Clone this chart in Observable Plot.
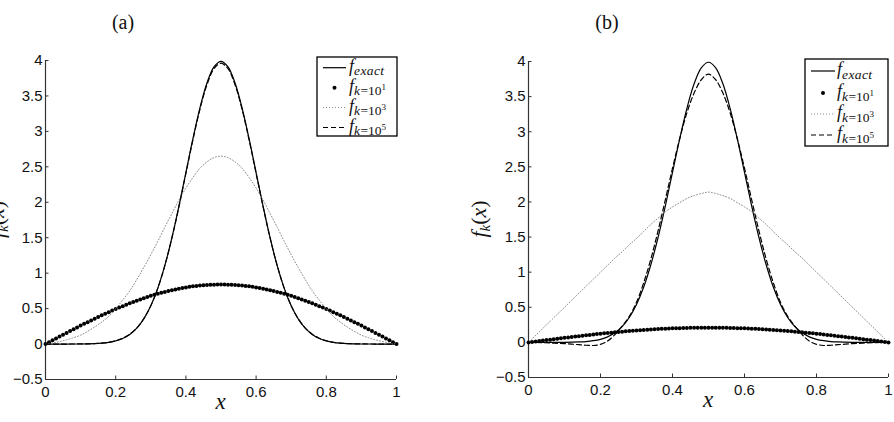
<!DOCTYPE html>
<html>
<head>
<meta charset="utf-8">
<script src="https://cdn.jsdelivr.net/npm/d3@7"></script>
<script src="https://cdn.jsdelivr.net/npm/@observablehq/plot@0.6"></script>
<style>
  html, body { margin: 0; padding: 0; background: #fff; }
  #wrap { display: flex; width: 894px; height: 422px; overflow: hidden; }
  #wrap svg { display: block; }
</style>
</head>
<body>
<div id="wrap"></div>
<script>
// Sample positions for the smooth curves and for the dotted k=10^1 series
const xLine = [0,0.02,0.04,0.06,0.08,0.1,0.12,0.14,0.16,0.18,0.2,0.22,0.24,0.26,0.28,0.3,0.32,0.34,0.36,0.38,0.4,0.42,0.44,0.46,0.48,0.5,
  0.52,0.54,0.56,0.58,0.6,0.62,0.64,0.66,0.68,0.7,0.72,0.74,0.76,0.78,0.8,0.82,0.84,0.86,0.88,0.9,0.92,0.94,0.96,0.98,1];
const xDot = [0,0.01,0.02,0.03,0.04,0.05,0.06,0.07,0.08,0.09,0.1,0.11,0.12,0.13,0.14,0.15,0.16,0.17,0.18,0.19,0.2,
  0.21,0.22,0.23,0.24,0.25,0.26,0.27,0.28,0.29,0.3,0.31,0.32,0.33,0.34,0.35,0.36,0.37,0.38,0.39,0.4,
  0.41,0.42,0.43,0.44,0.45,0.46,0.47,0.48,0.49,0.5,0.51,0.52,0.53,0.54,0.55,0.56,0.57,0.58,0.59,0.6,
  0.61,0.62,0.63,0.64,0.65,0.66,0.67,0.68,0.69,0.7,0.71,0.72,0.73,0.74,0.75,0.76,0.77,0.78,0.79,0.8,
  0.81,0.82,0.83,0.84,0.85,0.86,0.87,0.88,0.89,0.9,0.91,0.92,0.93,0.94,0.95,0.96,0.97,0.98,0.99,1];

const xTicks = [0, 0.2, 0.4, 0.6, 0.8, 1];
const yTicks = [-0.5, 0, 0.5, 1, 1.5, 2, 2.5, 3, 3.5, 4];
const xDomain = [0, 1];
const yDomain = [-0.5, 4];

// exact density (same in both panels)
const fExact = [0,0,0,0,0.001,0.001,0.003,0.006,0.012,0.024,0.044,0.079,0.136,0.224,0.355,0.540,0.789,1.109,1.497,1.942,2.420,2.897,3.332,3.682,3.910,3.989,
  3.910,3.682,3.332,2.897,2.420,1.942,1.497,1.109,0.789,0.540,0.355,0.224,0.136,0.079,0.044,0.024,0.012,0.006,0.003,0.001,0.001,0,0,0,0];

// panel (a)
const aK1 = [0,0.026,0.053,0.079,0.105,0.131,0.157,0.183,0.209,0.234,0.260,0.285,0.309,0.334,0.358,0.381,0.405,0.428,0.450,0.472,0.494,
  0.515,0.535,0.555,0.575,0.594,0.612,0.630,0.647,0.664,0.680,0.695,0.709,0.723,0.736,0.748,0.760,0.771,0.781,0.790,0.799,
  0.807,0.814,0.820,0.825,0.830,0.833,0.836,0.838,0.840,0.840,
  0.840,0.838,0.836,0.833,0.830,0.825,0.820,0.814,0.807,0.799,0.790,0.781,0.771,0.760,0.748,0.736,0.723,0.709,0.695,0.680,
  0.664,0.647,0.630,0.612,0.594,0.575,0.555,0.535,0.515,0.494,0.472,0.450,0.428,0.405,0.381,0.358,0.334,0.309,0.285,0.260,
  0.234,0.209,0.183,0.157,0.131,0.105,0.079,0.053,0.026,0];
const aK3 = [0,0.015,0.035,0.06,0.09,0.125,0.18,0.24,0.31,0.39,0.50,0.62,0.75,0.91,1.08,1.26,1.45,1.65,1.84,2.03,2.20,2.35,2.48,2.57,2.63,2.65,
  2.63,2.57,2.48,2.35,2.20,2.03,1.84,1.65,1.45,1.26,1.08,0.91,0.75,0.62,0.50,0.39,0.31,0.24,0.18,0.125,0.09,0.06,0.035,0.015,0];
const aK5 = [0,0,0,0,0.001,0.002,0.003,0.007,0.013,0.025,0.046,0.081,0.138,0.226,0.357,0.541,0.789,1.107,1.493,1.934,2.408,2.881,3.312,3.658,3.884,3.962,
  3.884,3.658,3.312,2.881,2.408,1.934,1.493,1.107,0.789,0.541,0.357,0.226,0.138,0.081,0.046,0.025,0.013,0.007,0.003,0.002,0.001,0,0,0,0];

// panel (b)
const bK1 = [0,0.007,0.013,0.020,0.026,0.033,0.039,0.046,0.052,0.059,0.065,0.071,0.077,0.083,0.089,0.095,0.101,0.107,0.113,0.118,0.123,
  0.129,0.134,0.139,0.144,0.148,0.153,0.158,0.162,0.166,0.170,0.174,0.177,0.181,0.184,0.187,0.190,0.193,0.195,0.198,0.200,
  0.202,0.203,0.205,0.206,0.207,0.208,0.209,0.210,0.210,0.210,
  0.210,0.210,0.209,0.208,0.207,0.206,0.205,0.203,0.202,0.200,0.198,0.195,0.193,0.190,0.187,0.184,0.181,0.177,0.174,0.170,
  0.166,0.162,0.158,0.153,0.148,0.144,0.139,0.134,0.129,0.123,0.118,0.113,0.107,0.101,0.095,0.089,0.083,0.077,0.071,0.065,
  0.059,0.052,0.046,0.039,0.033,0.026,0.020,0.013,0.007,0];
const bK3 = [0,0.10,0.20,0.30,0.40,0.50,0.60,0.70,0.80,0.90,1.00,1.10,1.20,1.29,1.39,1.48,1.58,1.68,1.77,1.86,1.93,1.99,2.05,2.09,2.12,2.14,
  2.12,2.09,2.05,1.99,1.93,1.86,1.77,1.68,1.58,1.48,1.39,1.29,1.20,1.10,1.00,0.90,0.80,0.70,0.60,0.50,0.40,0.30,0.20,0.10,0];
const bK5 = [0,0,-0.004,-0.008,-0.013,-0.018,-0.025,-0.033,-0.041,-0.044,-0.028,0.02,0.11,0.23,0.37,0.57,0.85,1.19,1.59,2.03,2.48,2.90,3.27,3.55,3.74,3.82,
  3.74,3.55,3.27,2.90,2.48,2.03,1.59,1.19,0.85,0.57,0.37,0.23,0.11,0.02,-0.028,-0.044,-0.041,-0.033,-0.025,-0.018,-0.013,-0.008,-0.004,0,0];

const panelTitles = ["(a)", "(b)"];
const legendSubs = ["exact", "k", "k", "k"];
const legendSups = ["", "1", "3", "5"];

const fmt = d3.format("~g");
const serif = "Liberation Serif";
const axisColor = "#333";

function panel(cfg) {
  const {k1, k3, k5, width, height, mL, mR, mT, mB} = cfg;
  const fh = height - mT - mB;
  const fw = width - mL - mR;
  const svg = Plot.plot({
    width, height,
    marginLeft: mL, marginRight: mR, marginTop: mT, marginBottom: mB,
    style: {fontFamily: "Liberation Sans", fontSize: "15px", color: "#111", background: "white", overflow: "visible"},
    x: {domain: xDomain},
    y: {domain: yDomain},
    marks: [
      Plot.axisX({ticks: xTicks, tickSize: 0, tickPadding: 7, tickFormat: fmt}),
      Plot.axisY({ticks: yTicks, tickSize: 0, tickPadding: 3, tickFormat: fmt}),
      Plot.tickX(xTicks, {x: d => d, insetTop: fh - 3.5, stroke: axisColor}),
      Plot.tickY(yTicks, {y: d => d, insetRight: fw - 3.5, stroke: axisColor}),
      Plot.ruleX([xDomain[0]], {stroke: axisColor, strokeWidth: 1.2}),
      Plot.ruleY([yDomain[0]], {stroke: axisColor, strokeWidth: 1.2}),
      Plot.lineY(fExact, {x: xLine, curve: "catmull-rom", stroke: "black", strokeWidth: 1.2}),
      Plot.dot(k1, {x: xDot, y: d => d, r: 2, fill: "black"}),
      Plot.lineY(k3, {x: xLine, curve: "catmull-rom", stroke: "#808080", strokeWidth: 0.9, strokeDasharray: "1,2"}),
      Plot.lineY(k5, {x: xLine, curve: "catmull-rom", stroke: "black", strokeWidth: 1.2, strokeDasharray: "5,3"})
    ]
  });
  const s = d3.select(svg);

  // panel title
  s.append("text").attr("x", cfg.titleX).attr("y", 29)
    .attr("text-anchor", "middle").attr("font-family", serif).attr("font-size", 20).attr("fill", "#111")
    .text(cfg.title);

  // x-axis label
  s.append("text").attr("x", mL + fw / 2).attr("y", cfg.xLabelY)
    .attr("text-anchor", "middle").attr("font-family", serif).attr("font-style", "italic")
    .attr("font-size", 23).attr("fill", "#111").text("x");

  // y-axis label f_k(x)
  const yl = s.append("text").attr("transform", `translate(${cfg.yLabelX},${mT + fh / 2}) rotate(-90)`)
    .attr("text-anchor", "middle").attr("font-family", serif).attr("font-size", 22).attr("fill", "#111");
  yl.append("tspan").attr("font-style", "italic").text("f");
  yl.append("tspan").attr("font-style", "italic").attr("font-size", 15).attr("dy", 4).text("k");
  yl.append("tspan").attr("dy", -4).text("(");
  yl.append("tspan").attr("font-style", "italic").text("x");
  yl.append("tspan").text(")");

  // legend
  const L = cfg.legend;
  const g = s.append("g").attr("text-anchor", "start");
  g.append("rect").attr("x", L.x).attr("y", L.y).attr("width", L.w).attr("height", L.h)
    .attr("fill", "white").attr("stroke", "black").attr("stroke-width", 1.3);
  L.rows.forEach((cy, i) => {
    if (i === 0) {
      g.append("line").attr("x1", L.sx1).attr("x2", L.sx2).attr("y1", cy).attr("y2", cy)
        .attr("stroke", "black").attr("stroke-width", 1.2);
    } else if (i === 1) {
      g.append("circle").attr("cx", (L.sx1 + L.sx2) / 2).attr("cy", cy).attr("r", 2).attr("fill", "black");
    } else if (i === 2) {
      g.append("line").attr("x1", L.sx1).attr("x2", L.sx2).attr("y1", cy).attr("y2", cy)
        .attr("stroke", "#808080").attr("stroke-width", 0.9).attr("stroke-dasharray", "1,2");
    } else {
      g.append("line").attr("x1", L.sx1).attr("x2", L.sx2).attr("y1", cy).attr("y2", cy)
        .attr("stroke", "black").attr("stroke-width", 1.2).attr("stroke-dasharray", "5,3");
    }
    const t = g.append("text").attr("x", L.tx).attr("y", cy + 4).attr("text-anchor", "start")
      .attr("font-family", serif).attr("font-size", 18).attr("fill", "#111");
    t.append("tspan").attr("font-style", "italic").text("f");
    t.append("tspan").attr("font-style", "italic").attr("font-size", 13.5).attr("dy", 3.5)
      .attr("letter-spacing", 0.4).text(legendSubs[i]);
    if (legendSups[i]) {
      t.append("tspan").attr("font-size", 13.5).text("=10");
      t.append("tspan").attr("font-size", 9).attr("dy", -5).text(legendSups[i]);
    }
  });
  return svg;
}

const wrap = document.getElementById("wrap");
wrap.appendChild(panel({
  k1: aK1, k3: aK3, k5: aK5, title: panelTitles[0],
  width: 447, height: 422, mL: 45, mR: 51, mT: 60, mB: 43,
  titleX: 123, xLabelY: 409, yLabelX: 4,
  legend: {x: 317, y: 57, w: 80, h: 79, rows: [67.7, 87.7, 107.5, 127.5], sx1: 323, sx2: 346, tx: 349}
}));
wrap.appendChild(panel({
  k1: bK1, k3: bK3, k5: bK5, title: panelTitles[1],
  width: 447, height: 422, mL: 81, mR: 6, mT: 61, mB: 45,
  titleX: 160, xLabelY: 407, yLabelX: 39,
  legend: {x: 358, y: 59, w: 83, h: 87, rows: [71, 93, 114, 135], sx1: 364, sx2: 388, tx: 390}
}));
</script>
</body>
</html>
